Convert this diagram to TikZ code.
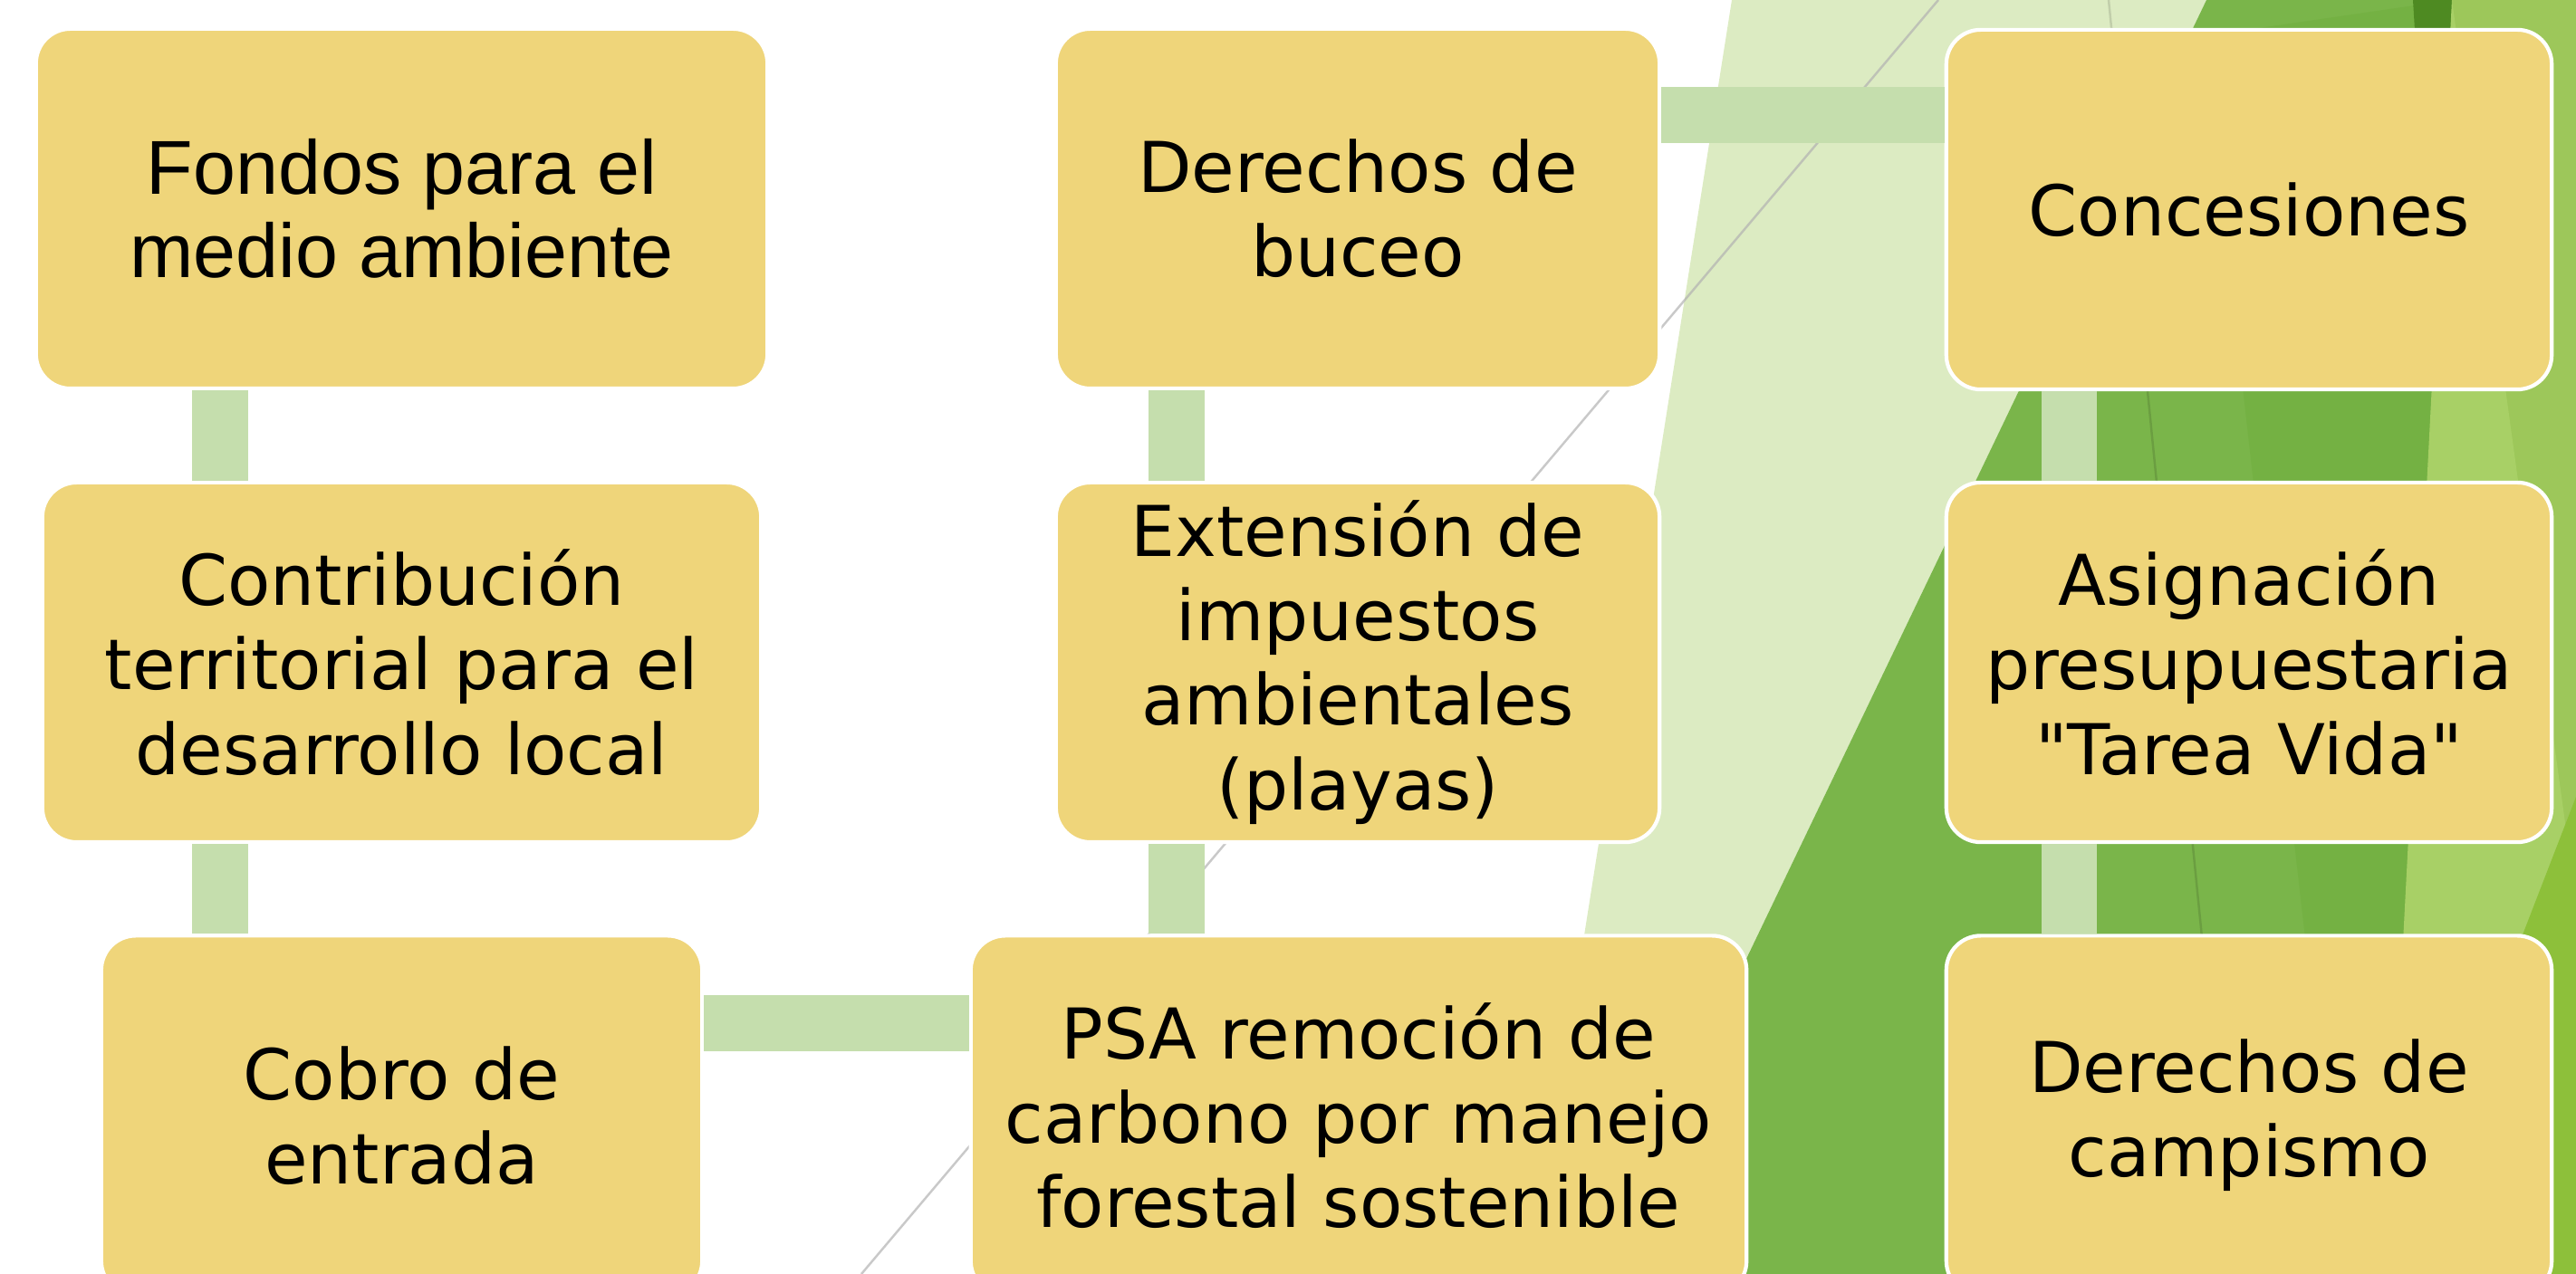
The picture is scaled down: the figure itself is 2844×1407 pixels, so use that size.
\documentclass[tikz,border=0pt]{standalone}
\usepackage{fontspec}
\setmainfont{DejaVu Sans}[Ligatures=TeXOff]
\newfontfamily\arialfont{Liberation Sans}
\usepackage{tikz}

\definecolor{boxfill}{HTML}{EFD57A}
\definecolor{linkgreen}{HTML}{C5DEAD}
\definecolor{palegreen}{HTML}{DCEBC2}
\definecolor{midgreen}{HTML}{7AB54A}
\definecolor{shadegreen}{HTML}{74B143}
\definecolor{darkgreen}{HTML}{4E8A22}
\definecolor{lightfacet}{HTML}{A8D066}
\definecolor{sidefacet}{HTML}{9DC75A}
\definecolor{limegreen}{HTML}{8DC03A}

\begin{document}
\begin{tikzpicture}[x=0.01cm,y=-0.01cm,
  box/.style={draw=white,line width=1.2pt,fill=boxfill,rounded corners=0.38cm,
    align=center,inner sep=0pt,minimum height=3.97cm,
    font=\fontsize{22}{26.5}\selectfont},
  link/.style={draw=linkgreen,line width=0.61cm}]
\useasboundingbox (0,0) rectangle (2844,1407);
\clip (0,0) rectangle (2844,1407);

% facets on the right
\fill[palegreen] (1912,0) -- (2436,0) -- (1761,1407) -- (1690,1407) -- cycle;
\fill[midgreen] (2436,0) -- (2844,0) -- (2844,1407) -- (1761,1407) -- cycle;
\fill[shadegreen] (2432,40) -- (2707,0) -- (2634,1407) -- (2587,1407) -- cycle;
\fill[darkgreen] (2664,0) -- (2707,0) -- (2700,300) -- (2682,300) -- cycle;
\fill[sidefacet] (2707,0) -- (2844,0) -- (2844,1407) -- cycle;
\fill[lightfacet] (2707,0) -- (2844,996) -- (2844,1407) -- (2634,1407) -- cycle;
\fill[limegreen] (2844,880) -- (2844,1407) -- (2640,1407) -- cycle;
\draw[black!30,opacity=.7,line width=.7pt] (2140,0) -- (951,1407);
\draw[black,opacity=.12,line width=.7pt] (2328,0) -- (2468,1407);

% boxes
\node[box,minimum width=8.07cm,font=\arialfont\fontsize{24}{26}\selectfont] (fondos) at (443.5,230.5) {Fondos para el\\medio ambiente};
\node[box,minimum width=6.66cm] (buceo) at (1499,230.5) {Derechos de\\buceo};
\node[box,minimum width=6.68cm] (conces) at (2483,231.5) {Concesiones};
\node[box,minimum width=7.93cm] (contrib) at (443.5,731.5) {Contribución\\territorial para el\\desarrollo local};
\node[box,minimum width=6.66cm] (extens) at (1499,731.5) {Extensión de\\impuestos\\ambientales\\(playas)};
\node[box,minimum width=6.68cm] (asign) at (2483,731.5) {Asignación\\presupuestaria\\"Tarea Vida"};
\node[box,minimum width=6.63cm] (cobro) at (443.5,1232) {Cobro de\\entrada};
\node[box,minimum width=8.56cm] (psa) at (1500,1232) {PSA remoción de\\carbono por manejo\\forestal sostenible};
\node[box,minimum width=6.68cm] (campis) at (2483,1232) {Derechos de\\campismo};

% links
\coordinate (colA) at (243,0);
\coordinate (colB) at (1299,0);
\coordinate (colC) at (2284,0);
\coordinate (rowT) at (0,127);
\coordinate (rowB) at (0,1130);
\draw[link] (fondos.south -| colA) -- (contrib.north -| colA);
\draw[link] (contrib.south -| colA) -- (cobro.north -| colA);
\draw[link] (cobro.east |- rowB) -- (psa.west |- rowB);
\draw[link] (psa.north -| colB) -- (extens.south -| colB);
\draw[link] (extens.north -| colB) -- (buceo.south -| colB);
\draw[link] (buceo.east |- rowT) -- (conces.west |- rowT);
\draw[link] (conces.south -| colC) -- (asign.north -| colC);
\draw[link] (asign.south -| colC) -- (campis.north -| colC);
\end{tikzpicture}
\end{document}
